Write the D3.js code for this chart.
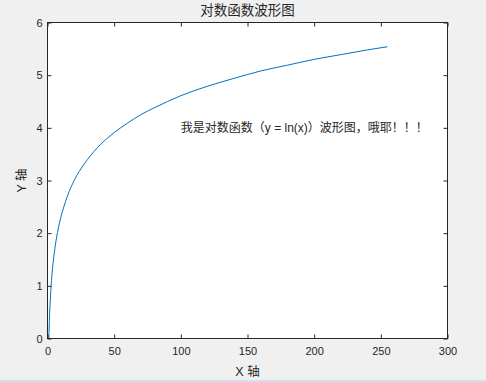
<!DOCTYPE html>
<html>
<head>
<meta charset="utf-8">
<script src="https://cdn.jsdelivr.net/npm/d3@7"></script>
<style>
  body { margin: 0; background: #f0f0f0; }
  text { font-family: "Liberation Sans", "Noto Sans CJK SC", sans-serif; fill: #262626; }
</style>
</head>
<body>
<svg id="chart" width="486" height="382"></svg>
<script>
// values
const xValues = [1, 1.5, 2, 3, 4, 5, 6, 8, 10, 12, 15, 20, 25, 30, 40, 50, 60, 70, 80, 90, 100, 120, 140, 160, 180, 200, 220, 240, 255];
const yValues = [0, 0.41, 0.69, 1.10, 1.39, 1.61, 1.79, 2.08, 2.30, 2.48, 2.71, 3.00, 3.22, 3.40, 3.69, 3.91, 4.09, 4.25, 4.38, 4.50, 4.61, 4.79, 4.94, 5.08, 5.19, 5.30, 5.39, 5.48, 5.54];
const xTicks = [0, 50, 100, 150, 200, 250, 300];
const yTicks = [0, 1, 2, 3, 4, 5, 6];
const titleText = "对数函数波形图";
const xLabel = "X 轴";
const yLabel = "Y 轴";
const note = { x: 100, y: 4, text: "我是对数函数（y = ln(x)）波形图，哦耶！！！" };

const svg = d3.select("#chart");
const margin = { left: 47.5, right: 38.5, top: 22.5, bottom: 43.5 };
const width = 486 - margin.left - margin.right;
const height = 382 - margin.top - margin.bottom;

const xScale = d3.scaleLinear().domain([0, 300]).range([0, width]);
const yScale = d3.scaleLinear().domain([0, 6]).range([height, 0]);

// light strip at the window bottom
svg.append("rect").attr("x", 0).attr("y", 380).attr("width", 486).attr("height", 2).attr("fill", "#cfe0ee");

const g = svg.append("g").attr("transform", `translate(${margin.left},${margin.top})`);

g.append("rect").attr("width", width).attr("height", height).attr("fill", "white");

const data = xValues.map((x, i) => ({ x: x, y: yValues[i] }));

const line = d3.line()
    .x(d => xScale(d.x))
    .y(d => yScale(d.y))
    .curve(d3.curveMonotoneX);

g.append("path")
    .datum(data)
    .attr("fill", "none")
    .attr("stroke", "#0072bd")
    .attr("stroke-width", 1)
    .attr("d", line);

// axes with inward ticks
const tickStyle = sel => {
    sel.select(".domain").remove();
    sel.selectAll("line").attr("stroke", "#262626");
    sel.selectAll("text").style("font-size", "11px").style("fill", "#262626");
};

g.append("g").attr("transform", `translate(0,${height})`)
    .call(d3.axisBottom(xScale).tickValues(xTicks).tickSizeInner(-4).tickSizeOuter(0).tickPadding(9))
    .call(tickStyle);
g.append("g")
    .call(d3.axisTop(xScale).tickValues(xTicks).tickSizeInner(-4).tickSizeOuter(0).tickFormat(""))
    .call(tickStyle);
g.append("g")
    .call(d3.axisLeft(yScale).tickValues(yTicks).tickSizeInner(-4).tickSizeOuter(0).tickPadding(5).tickFormat(d3.format("d")))
    .call(tickStyle);
g.append("g").attr("transform", `translate(${width},0)`)
    .call(d3.axisRight(yScale).tickValues(yTicks).tickSizeInner(-4).tickSizeOuter(0).tickFormat(""))
    .call(tickStyle);

g.append("rect").attr("width", width).attr("height", height)
    .attr("fill", "none").attr("stroke", "#262626").attr("stroke-width", 1);

g.append("text")
    .attr("x", xScale(note.x)).attr("y", yScale(note.y))
    .attr("dy", "0.35em")
    .style("font-size", "12px")
    .text(note.text);

svg.append("text")
    .attr("x", margin.left + width / 2).attr("y", 15)
    .attr("text-anchor", "middle")
    .style("font-size", "13.5px")
    .text(titleText);

svg.append("text")
    .attr("x", margin.left + width / 2).attr("y", 376)
    .attr("text-anchor", "middle")
    .style("font-size", "12.5px")
    .style("white-space", "pre")
    .text(xLabel);

svg.append("text")
    .attr("transform", `translate(26,${margin.top + height / 2}) rotate(-90)`)
    .attr("text-anchor", "middle")
    .style("font-size", "12.5px")
    .style("white-space", "pre")
    .text(yLabel);
</script>
</body>
</html>
